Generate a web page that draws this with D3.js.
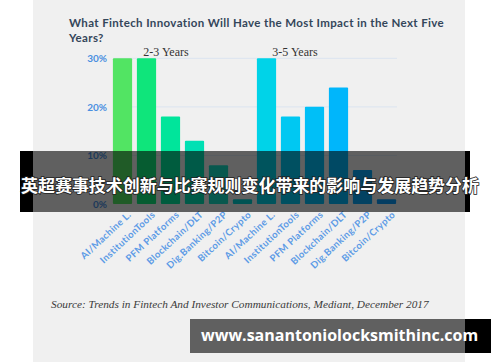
<!DOCTYPE html>
<html>
<head>
<meta charset="utf-8">
<script src="https://cdn.jsdelivr.net/npm/d3@7"></script>
<style>
  body { margin: 0; background: #fff; }
  svg { display: block; }
</style>
</head>
<body>
<div class="container"></div>
<script>
var _categories = ["AI/Machine L.", "InstitutionTools", "PFM Platforms", "Blockchain/DLT", "Dig.Banking/P2P", "Bitcoin/Crypto"];
var _groups = ["2-3 Years", "3-5 Years"];
var _values23 = [30, 30, 18, 13, 8, 1];
var _values35 = [30, 18, 20, 24, 7, 1];
var _yTicks = [0, 10, 20, 30];

var _colors23 = ["#52e463", "#0fe57b", "#00e59b", "#00e0b4", "#14dcc4", "#00d0d0"];
var _colors35 = ["#00d3e8", "#00c8f2", "#00bff7", "#00b6fb", "#08a6f5", "#0a98f5"];

const WIDTH = 500;
const HEIGHT = 362;

var translate = function(x, y){
  return "translate(" + x + "," + y + ")";
};

// one flat list of bars, two groups side by side
var _bars = [];
_values23.forEach(function(v, i){ _bars.push({key: "a" + i, label: _categories[i], value: v, color: _colors23[i]}); });
_values35.forEach(function(v, i){ _bars.push({key: "b" + i, label: _categories[i], value: v, color: _colors35[i]}); });

var _xScale = d3.scaleBand()
  .domain(_bars.map(function(d){ return d.key; }))
  .range([110.5, 398.5])
  .paddingInner(0.2)
  .paddingOuter(0.1);

var _yScale = d3.scaleLinear()
  .domain([0, 30])
  .range([204, 58.3]);

var generateChart = function(){
  var svg = d3.select('.container').append('svg')
    .attr("width", WIDTH)
    .attr("height", HEIGHT);

  // grey card
  svg.append('rect')
    .attr('x', 33).attr('y', 0)
    .attr('width', 432).attr('height', HEIGHT)
    .attr('fill', '#f0f0f0');

  // title
  var title = svg.append('text')
    .attr('font-family', 'Lato, sans-serif')
    .attr('font-weight', 'bold')
    .attr('font-size', 11.5)
    .attr('letter-spacing', 0.37)
    .attr('fill', '#34465a');
  title.append('tspan').attr('x', 69).attr('y', 27)
    .text("What Fintech Innovation Will Have the Most Impact in the Next Five");
  title.append('tspan').attr('x', 69).attr('y', 42)
    .text("Years?");

  // gridlines
  svg.append('g').selectAll('line').data(_yTicks.slice(1))
    .enter().append('line')
    .attr('x1', 113).attr('x2', 397)
    .attr('y1', function(d){ return _yScale(d); })
    .attr('y2', function(d){ return _yScale(d); })
    .attr('stroke', '#dbe4f0')
    .attr('stroke-width', 1);

  // y axis
  var yAxis = d3.axisLeft(_yScale)
    .tickValues(_yTicks)
    .tickSize(0)
    .tickPadding(0)
    .tickFormat(function(d){ return d + "%"; });
  var yg = svg.append('g')
    .attr('transform', translate(107, 0))
    .call(yAxis);
  yg.select('.domain').remove();
  yg.selectAll('text')
    .attr('font-family', 'Lato, sans-serif')
    .attr('font-weight', 'bold')
    .attr('font-size', 10)
    .attr('fill', '#4a8fe0');

  // bars
  svg.append('g').selectAll('rect').data(_bars)
    .enter().append('rect')
    .attr('x', function(d){ return _xScale(d.key); })
    .attr('y', function(d){ return _yScale(d.value); })
    .attr('width', _xScale.bandwidth())
    .attr('height', function(d){ return _yScale(0) - _yScale(d.value); })
    .attr('rx', 1)
    .attr('fill', function(d){ return d.color; });

  // group labels
  svg.append('g').selectAll('text').data(_groups)
    .enter().append('text')
    .attr('x', function(d, i){ return i == 0 ? 166 : 295; })
    .attr('y', 56)
    .attr('text-anchor', 'middle')
    .attr('font-family', '"Liberation Serif", serif')
    .attr('font-size', 12)
    .attr('fill', '#333')
    .text(function(d){ return d; });

  // x labels, rotated
  svg.append('g').selectAll('text').data(_bars)
    .enter().append('text')
    .attr('transform', function(d){
      return translate(_xScale(d.key) + _xScale.bandwidth() / 2 + 7, 213) + " rotate(-43)";
    })
    .attr('text-anchor', 'end')
    .attr('dy', '0.35em')
    .attr('font-family', 'Lato, sans-serif')
    .attr('font-weight', 'bold')
    .attr('font-size', 9.5)
    .attr('letter-spacing', 0.4)
    .attr('fill', '#5c9be6')
    .text(function(d){ return d.label; });

  // source note
  svg.append('text')
    .attr('x', 51).attr('y', 308)
    .attr('font-family', '"Liberation Serif", serif')
    .attr('font-style', 'italic')
    .attr('font-size', 11.3)
    .attr('fill', '#3a3a3a')
    .text("Source: Trends in Fintech And Investor Communications, Mediant, December 2017");

  // headline banner
  var banner = svg.append('g');
  banner.append('rect').attr('x', 20).attr('y', 151).attr('width', 13).attr('height', 61).attr('fill', '#000');
  banner.append('rect').attr('x', 465).attr('y', 151).attr('width', 5).attr('height', 61).attr('fill', '#000');
  banner.append('rect').attr('x', 33).attr('y', 151).attr('width', 432).attr('height', 61)
    .attr('fill', '#000').attr('fill-opacity', 0.6);
  banner.append('text')
    .attr('x', 21).attr('y', 192)
    .attr('textLength', 458)
    .attr('lengthAdjust', 'spacingAndGlyphs')
    .attr('font-family', '"Noto Sans CJK SC", sans-serif')
    .attr('font-weight', 'bold')
    .attr('font-size', 16.8)
    .attr('fill', '#fff')
    .attr('stroke', '#222')
    .attr('stroke-width', 1.6)
    .attr('paint-order', 'stroke')
    .text("英超赛事技术创新与比赛规则变化带来的影响与发展趋势分析");

  // site watermark
  var mark = svg.append('g');
  mark.append('rect').attr('x', 190).attr('y', 319).attr('width', 275).attr('height', 34)
    .attr('fill', '#000').attr('fill-opacity', 0.6);
  mark.append('rect').attr('x', 465).attr('y', 319).attr('width', 26).attr('height', 34).attr('fill', '#000');
  mark.append('text')
    .attr('x', 201).attr('y', 341)
    .attr('font-family', '"Open Sans", sans-serif')
    .attr('font-weight', 'bold')
    .attr('font-size', 16)
    .attr('fill', '#fff')
    .text("www.sanantoniolocksmithinc.com");
};

window.onload = generateChart;
</script>
</body>
</html>
